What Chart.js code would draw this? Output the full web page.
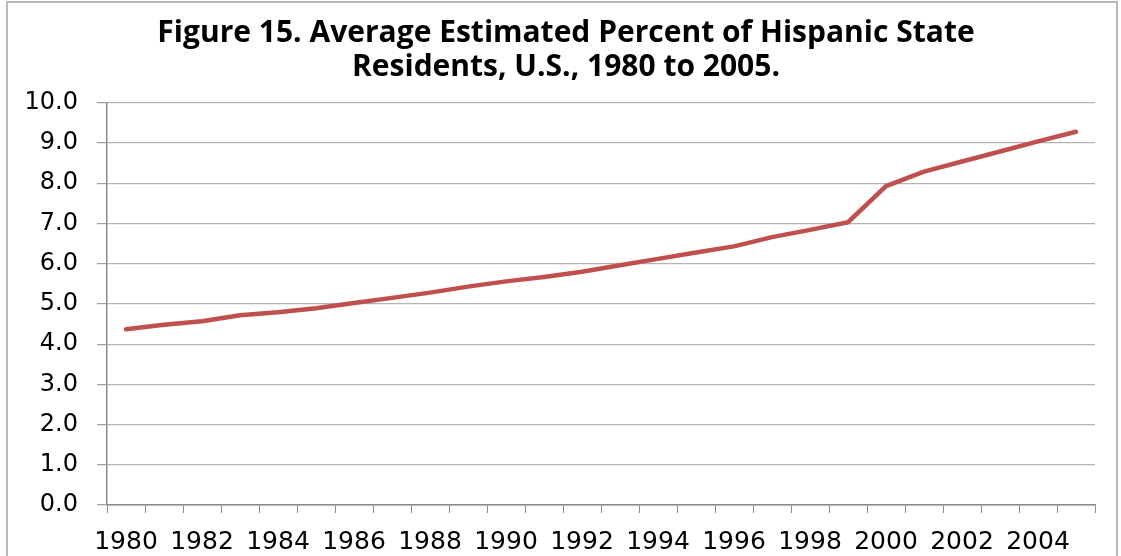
<!DOCTYPE html>
<html><head><meta charset="utf-8">
<script src="https://cdn.jsdelivr.net/npm/chart.js@4"></script>
<style>
html,body{margin:0;padding:0;background:#fff;overflow:hidden}
#wrap{position:relative;width:1121px;height:556px}
#frame{position:absolute;left:6px;top:1px;width:1112px;height:600px;border:2px solid #b9b9b9;box-sizing:border-box}
canvas{position:absolute;left:0;top:0}
</style></head>
<body><div id="wrap"><div id="frame"></div><canvas id="c" width="1121" height="556"></canvas></div>
<script>
const years = ['1980','1981','1982','1983','1984','1985','1986','1987','1988','1989','1990','1991','1992','1993','1994','1995','1996','1997','1998','1999','2000','2001','2002','2003','2004','2005'];
const hispanicPct = [4.37,4.48,4.57,4.72,4.79,4.89,5.02,5.15,5.28,5.43,5.56,5.67,5.80,5.96,6.12,6.28,6.43,6.66,6.84,7.03,7.93,8.29,8.54,8.79,9.04,9.28];
const titleLines = ['Figure 15. Average Estimated Percent of Hispanic State','Residents, U.S., 1980 to 2005.'];
const yMin = 0, yMax = 10, yStep = 1;

const titleShift = {
  id: 'titleShift',
  afterLayout(chart) {
    const t = chart.titleBlock;
    if (t) { t.left = t.left + 37; }
  }
};

new Chart(document.getElementById('c'), {
  type: 'line',
  data: {
    labels: years,
    datasets: [{
      data: hispanicPct,
      borderColor: '#C0504D',
      borderWidth: 4.5,
      borderCapStyle: 'round',
      borderJoinStyle: 'round',
      pointRadius: 0,
      tension: 0,
      fill: false
    }]
  },
  plugins: [titleShift],
  options: {
    responsive: false,
    animation: false,
    devicePixelRatio: 1,
    layout: { padding: { left: 0, right: 26, top: 3, bottom: 0 } },
    plugins: {
      legend: { display: false },
      tooltip: { enabled: false },
      title: {
        display: true,
        text: titleLines,
        color: '#000',
        font: { family: "'Open Sans', 'Liberation Sans', sans-serif", size: 30, weight: 'bold', lineHeight: 1.13 },
        padding: { top: 14, bottom: 18 }
      }
    },
    scales: {
      x: {
        type: 'category',
        offset: true,
        grid: { offset: true, drawOnChartArea: false, drawTicks: true, tickLength: 8, color: '#8c8c8c', tickColor: '#8c8c8c' },
        border: { color: '#8c8c8c', width: 1.5 },
        ticks: {
          autoSkip: false, maxRotation: 0, minRotation: 0, padding: 14, color: '#000',
          font: { family: "'DejaVu Sans', sans-serif", size: 25 },
          callback: function(v, i) { return i % 2 === 0 ? this.getLabelForValue(v) : ''; }
        },
        afterFit: function(s) { s.height = 51; }
      },
      y: {
        min: yMin, max: yMax,
        grid: { color: '#b3b3b3', lineWidth: 1.2, tickLength: 10, tickColor: '#a0a0a0' },
        border: { color: '#8c8c8c', width: 1.5 },
        ticks: {
          stepSize: yStep, padding: 19, color: '#000',
          font: { family: "'DejaVu Sans', sans-serif", size: 24 },
          callback: v => Number(v).toFixed(1)
        },
        afterFit: function(s) { s.width = 107; }
      }
    }
  }
});
</script>
</body></html>
